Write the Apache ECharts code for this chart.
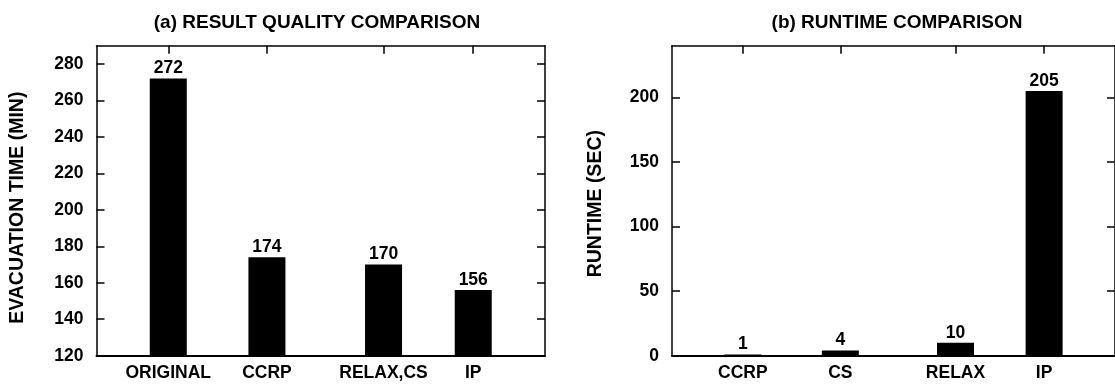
<!DOCTYPE html>
<html>
<head>
<meta charset="utf-8">
<script src="https://cdn.jsdelivr.net/npm/echarts@6/dist/echarts.min.js"></script>
<style>
html,body{margin:0;padding:0;background:#fff;}
#chart{width:1115px;height:387px;}
</style>
</head>
<body>
<div id="chart"></div>
<script>
// ---- data ----
const qualityCategories = ['ORIGINAL', 'CCRP', 'RELAX,CS', 'IP'];
const qualityValues = [272, 174, 170, 156];
const runtimeCategories = ['CCRP', 'CS', 'RELAX', 'IP'];
const runtimeValues = [1, 4, 10, 205];
const barPositions = [0.8, 1.9, 3.2, 4.2];
const qualityTicks = [120, 140, 160, 180, 200, 220, 240, 260, 280];
const runtimeTicks = [0, 50, 100, 150, 200];

const FONT = '"Liberation Sans", Arial, Helvetica, sans-serif';
const chart = echarts.init(document.getElementById('chart'), null, {renderer: 'canvas'});

function pairs(vals) { return vals.map((v, i) => [barPositions[i], v]); }
function catFormatter(cats) {
  return function (val) {
    const i = barPositions.findIndex(p => Math.abs(p - val) < 1e-6);
    return i >= 0 ? cats[i] : '';
  };
}

const axisLineStyle = {color: '#000', width: 1.5};
const labelStyle = {color: '#000', fontFamily: FONT, fontSize: 17.5, fontWeight: 'bold'};
const nameStyle = {color: '#000', fontFamily: FONT, fontSize: 19.5, fontWeight: 'bold'};

function bottomX(gridIndex, cats) {
  return {
    type: 'value', gridIndex, min: 0, max: 5, position: 'bottom',
    axisLine: {show: true, onZero: false, lineStyle: {color: '#000', width: 2}},
    axisTick: {show: false},
    splitLine: {show: false},
    axisLabel: Object.assign({customValues: barPositions, formatter: catFormatter(cats), margin: 8}, labelStyle)
  };
}
function topX(gridIndex) {
  return {
    type: 'value', gridIndex, min: 0, max: 5, position: 'top',
    axisLine: {show: true, onZero: false, lineStyle: axisLineStyle},
    axisTick: {show: true, inside: true, length: 8, customValues: barPositions, lineStyle: axisLineStyle},
    axisLabel: {show: false},
    splitLine: {show: false}
  };
}
function leftY(gridIndex, min, max, ticks, name, gap, pad) {
  return {
    type: 'value', gridIndex, min, max, position: 'left',
    name, nameLocation: 'middle', nameRotate: 90, nameGap: gap,
    nameTextStyle: Object.assign({padding: pad}, nameStyle),
    axisLine: {show: true, onZero: false, lineStyle: axisLineStyle},
    axisTick: {show: true, inside: true, length: 8, customValues: ticks, lineStyle: axisLineStyle},
    axisLabel: Object.assign({customValues: ticks, margin: 13}, labelStyle),
    splitLine: {show: false}
  };
}
function rightY(gridIndex, min, max, ticks) {
  return {
    type: 'value', gridIndex, min, max, position: 'right',
    axisLine: {show: true, onZero: false, lineStyle: axisLineStyle},
    axisTick: {show: true, inside: true, length: 8, customValues: ticks, lineStyle: axisLineStyle},
    axisLabel: {show: false},
    splitLine: {show: false}
  };
}
function barSeries(xi, yi, vals) {
  return {
    type: 'bar', xAxisIndex: xi, yAxisIndex: yi, data: pairs(vals),
    barWidth: 37, clip: true,
    itemStyle: {color: '#000'},
    label: {
      show: true, position: 'top', distance: 1,
      formatter: p => String(p.value[1]),
      color: '#000', fontFamily: FONT, fontSize: 17.5, fontWeight: 'bold'
    },
    animation: false
  };
}

chart.setOption({
  animation: false,
  backgroundColor: '#fff',
  title: [
    {text: '(a) RESULT QUALITY COMPARISON', left: 312, top: 8, textAlign: 'center',
     textStyle: {color: '#000', fontFamily: FONT, fontSize: 19, fontWeight: 'bold'}},
    {text: '(b) RUNTIME COMPARISON', left: 892, top: 8, textAlign: 'center',
     textStyle: {color: '#000', fontFamily: FONT, fontSize: 19, fontWeight: 'bold'}}
  ],
  grid: [
    {left: 96.5, top: 45.7, width: 448.5, height: 310, show: false},
    {left: 672, top: 45.7, width: 449.5, height: 310, show: false}
  ],
  xAxis: [bottomX(0, qualityCategories), topX(0), bottomX(1, runtimeCategories), topX(1)],
  yAxis: [
    leftY(0, 120, 290, qualityTicks, 'EVACUATION TIME (MIN)', 69, [0, 14, 0, 0]),
    rightY(0, 120, 290, qualityTicks),
    leftY(1, 0, 240, runtimeTicks, 'RUNTIME (SEC)', 66, [0, 6, 0, 0]),
    rightY(1, 0, 240, runtimeTicks)
  ],
  series: [barSeries(0, 0, qualityValues), barSeries(2, 2, runtimeValues)]
});
</script>
</body>
</html>
